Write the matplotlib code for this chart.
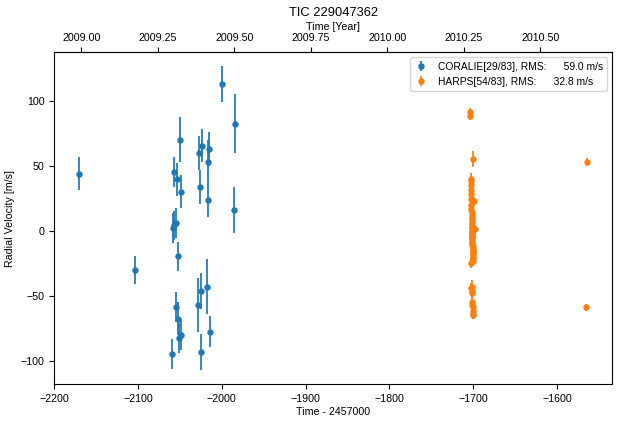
import matplotlib.pyplot as plt
import numpy as np
from matplotlib.ticker import MultipleLocator, FormatStrFormatter

plt.rc("font", family=["Liberation Sans", "DejaVu Sans"], size=7.7)

JD_OFFSET = 2457000
J2000 = 2451545.0

# CORALIE: time (BJD - 2457000), RV [m/s], error [m/s]
coralie_t = [-2170.2, -2103.3, -2059.5, -2057.2, -2058.0, -2057.0, -2055.0,
             -2053.6, -2050.0, -2049.2, -2052.4, -2054.4, -2052.8, -2050.8,
             -2048.4, -2027.3, -2023.4, -2026.1, -2015.8, -2016.2, -2016.4,
             -1999.5, -1984.0, -1985.2, -2028.2, -2024.6, -2017.8, -2013.8,
             -2024.9]
coralie_rv = [43.8, -30.0, -94.6, 45.4, 2.3, 4.0, 6.2,
              39.5, 70.0, 30.0, -19.8, -58.5, -67.5, -82.8,
              -80.0, 60.0, 65.4, 33.8, 63.0, 53.0, 23.8,
              112.5, 82.3, 15.6, -57.0, -46.0, -43.0, -77.5,
              -93.0]
coralie_err = [12.8, 10.9, 11.5, 11.5, 11.5, 11.5, 11.5,
               12.8, 17.4, 12.8, 10.9, 11.5, 12.5, 11.5,
               12.0, 13.0, 12.6, 13.0, 13.0, 17.0, 13.0,
               14.0, 22.5, 17.7, 20.5, 13.8, 21.0, 11.8,
               13.8]

# HARPS
harps_t = [-1704.0, -1703.8, -1700.2, -1702.6, -1702.5, -1702.4, -1702.3,
           -1698.8, -1702.2, -1702.1, -1702.0, -1701.9, -1701.8, -1701.7,
           -1701.6, -1701.5, -1697.5, -1701.4, -1701.3, -1701.2, -1701.1,
           -1701.0, -1700.9, -1700.8, -1700.7, -1700.6, -1700.5, -1700.4,
           -1700.3, -1702.0, -1701.9, -1701.8, -1700.8, -1700.5,
           -1702.5, -1702.4, -1702.0, -1701.7, -1701.5, -1701.4, -1701.2,
           -1701.0, -1700.9, -1700.7, -1700.6, -1700.4, -1702.2, -1702.1,
           -1701.9, -1701.0, -1700.7, -1700.6,
           -1564.7, -1565.5]
harps_rv = [91.0, 88.0, 55.0, 40.0, 38.0, 31.0, 24.0,
            23.0, 20.0, 17.0, 14.0, 12.0, 9.0, 7.0,
            5.0, 3.0, 1.0, 0.0, -2.0, -4.0, -6.0,
            -8.0, -10.0, -12.0, -14.0, -16.0, -18.0, -21.0,
            -23.0, -43.0, -46.0, -55.0, -59.0, -64.0,
            35.0, 28.0, 10.0, 2.0, -1.0, -3.0, -5.0,
            -9.0, -11.0, -15.0, -17.0, -20.0, -25.0, -44.0,
            -48.0, -57.0, -62.0, -65.0,
            52.5, -59.0]
harps_err = [3.0, 3.0, 6.0, 4.0, 4.0, 4.0, 4.0,
             3.0, 4.0, 4.0, 4.0, 4.0, 4.0, 4.0,
             4.0, 4.0, 3.0, 4.0, 4.0, 4.0, 4.0,
             4.0, 4.0, 4.0, 4.0, 4.0, 4.0, 4.0,
             4.0, 5.0, 5.0, 4.0, 3.0, 3.0,
             4.0, 4.0, 4.0, 4.0, 4.0, 4.0, 4.0,
             4.0, 4.0, 4.0, 4.0, 4.0, 4.0, 4.0,
             4.0, 4.0, 3.0, 3.0,
             3.0, 3.0]

labels = ["CORALIE[29/83], RMS:      59.0 m/s",
          "HARPS[54/83], RMS:      32.8 m/s"]
year_ticks = [2009.0, 2009.25, 2009.5, 2009.75, 2010.0, 2010.25, 2010.5]


def t2year(t):
    return 2000.0 + (np.asarray(t) + JD_OFFSET - J2000) / 365.25


def year2t(y):
    return (np.asarray(y) - 2000.0) * 365.25 + J2000 - JD_OFFSET


fig = plt.figure(figsize=(6.19, 4.25), dpi=100)
ax = fig.add_axes([0.0877, 0.0958, 0.9015, 0.781])

ax.errorbar(coralie_t, coralie_rv, yerr=coralie_err, fmt="o", ms=3.6,
            elinewidth=1.25, color="tab:blue", label=labels[0])
ax.errorbar(harps_t, harps_rv, yerr=harps_err, fmt="o", ms=3.6,
            elinewidth=1.25, color="tab:orange", label=labels[1])

ax.set_xlim(-2200, -1534)
ax.set_ylim(-118, 137)
ax.xaxis.set_major_locator(MultipleLocator(100))
ax.set_xlabel("Time - 2457000", labelpad=2)
ax.set_ylabel("Radial Velocity [m/s]")

top = ax.secondary_xaxis("top", functions=(t2year, year2t))
top.set_xticks(year_ticks)
top.xaxis.set_major_formatter(FormatStrFormatter("%.2f"))
top.set_xlabel("Time [Year]", labelpad=2)

ax.set_title("TIC 229047362", fontsize=9.3, pad=4)
ax.legend(loc="upper right", fontsize=7.4, handlelength=1.4,
          handletextpad=0.9)

fig.savefig("out.png", dpi=100)
